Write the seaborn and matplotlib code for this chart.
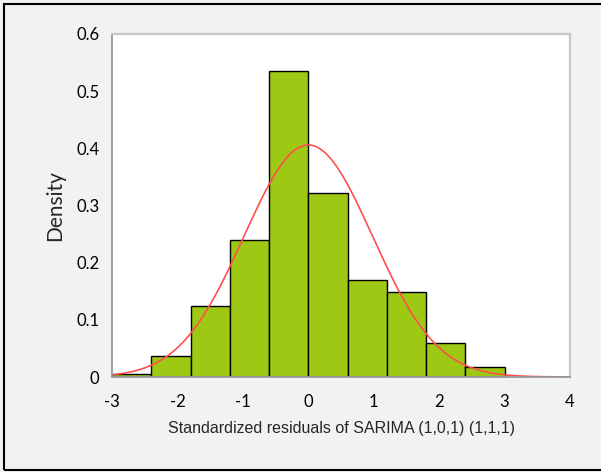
import numpy as np
import pandas as pd
import matplotlib
matplotlib.use('Agg')
import matplotlib.pyplot as plt
import seaborn as sns
from matplotlib.patches import Rectangle

# Histogram of standardized residuals (bin edges and densities)
bin_edges = [-3.0, -2.4, -1.8, -1.2, -0.6, 0.0, 0.6, 1.2, 1.8, 2.4, 3.0]
densities = [0.005, 0.037, 0.125, 0.240, 0.535, 0.322, 0.170, 0.148, 0.060, 0.018]

# Fitted normal curve
fit_mean = 0.0
fit_sd = 0.983

x_ticks = [-3, -2, -1, 0, 1, 2, 3, 4]
y_ticks = [0, 0.1, 0.2, 0.3, 0.4, 0.5, 0.6]
y_tick_labels = ['0', '0.1', '0.2', '0.3', '0.4', '0.5', '0.6']

sns.set_style('white')
plt.rcParams['font.family'] = ['Lato', 'DejaVu Sans']
plt.rcParams['axes.unicode_minus'] = False

centers = [(a + b) / 2 for a, b in zip(bin_edges[:-1], bin_edges[1:])]
df = pd.DataFrame({'resid': centers, 'dens': densities})

xs = np.linspace(-3, 4, 400)
curve = pd.DataFrame({
    'x': xs,
    'y': np.exp(-0.5 * ((xs - fit_mean) / fit_sd) ** 2) / (fit_sd * np.sqrt(2 * np.pi)),
})

fig = plt.figure(figsize=(6.01, 4.72), dpi=100, facecolor='#f2f2f2')
ax = fig.add_axes([112 / 601, 1 - 377 / 472, (570 - 112) / 601, (377 - 34) / 472])
ax.set_facecolor('white')

sns.histplot(data=df, x='resid', weights='dens', bins=bin_edges, stat='count',
             color='#9dc814', alpha=1, edgecolor='black', linewidth=1.0, ax=ax)
sns.lineplot(data=curve, x='x', y='y', color='#ff4f4f', linewidth=1.2, ax=ax)

ax.set_xlim(-3, 4)
ax.set_ylim(0, 0.6)
ax.set_xticks(x_ticks)
ax.set_yticks(y_ticks)
ax.set_yticklabels(y_tick_labels)

ax.tick_params(axis='x', direction='out', length=5, width=1.2, color='#999999',
               labelsize=12, pad=7, labelcolor='black')
ax.tick_params(axis='y', direction='inout', length=8, width=1.2, color='#999999',
               labelsize=12, pad=5, labelcolor='black')

for side in ['left', 'bottom']:
    ax.spines[side].set_color('#999999')
    ax.spines[side].set_linewidth(1.3)
for side in ['top', 'right']:
    ax.spines[side].set_color('#c8c8c8')
    ax.spines[side].set_linewidth(1.6)

ax.set_xlabel('Standardized residuals of SARIMA (1,0,1) (1,1,1)',
              fontsize=11.5, family=['Liberation Sans', 'DejaVu Sans'], labelpad=8)
ax.set_ylabel('Density', fontsize=15, labelpad=8)

# Outer frame around the chart
fig.patches.append(Rectangle((4 / 601, 2 / 472), 700 / 601, (468 - 2) / 472,
                             transform=fig.transFigure, fill=False,
                             edgecolor='black', linewidth=1.5))

fig.savefig('out.png', dpi=100, facecolor=fig.get_facecolor())
